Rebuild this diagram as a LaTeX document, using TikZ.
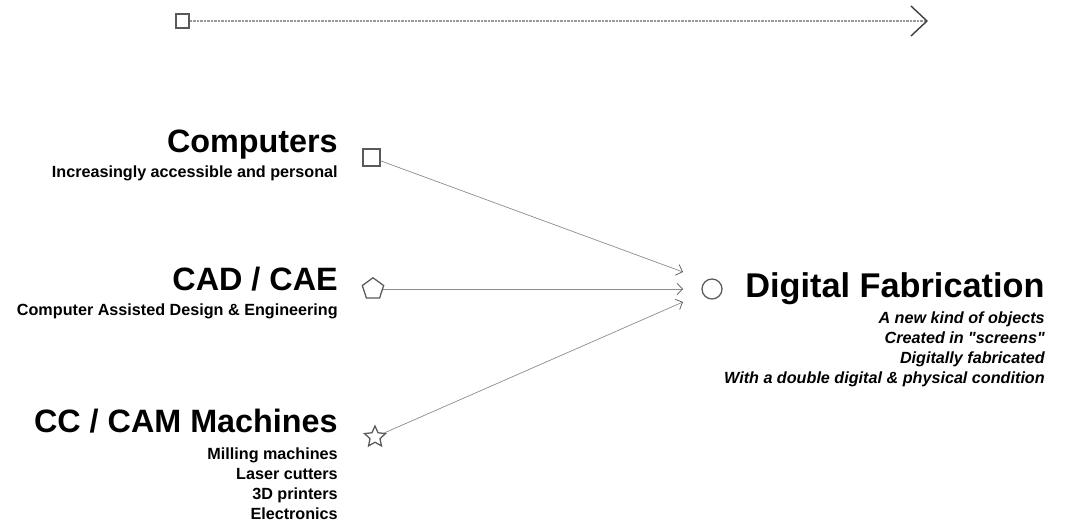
\documentclass[tikz,border=0pt]{standalone}
\usepackage{fontspec}
\setmainfont{Liberation Sans}
\usetikzlibrary{arrows.meta,shapes.geometric}

\tikzset{
  headline/.style={anchor=base east,inner sep=0pt,font=\fontsize{23}{27}\selectfont\bfseries},
  subline/.style={anchor=base east,inner sep=0pt,align=right,font=\fontsize{11.5}{14.4}\selectfont\bfseries},
  glyph/.style={draw=black!65,line width=0.9pt,inner sep=0pt,fill=white},
  link/.style={draw=black!45,line width=0.5pt,-{Straight Barb[length=4pt,width=8pt,color=black!65]}},
  timeline/.style={draw=black!40,line width=0.9pt,dash pattern=on 0.5pt off 0.5pt,
    -{Straight Barb[length=0.4cm,width=0.75cm,color=black!75,line width=1pt]}}
}

\begin{document}
\begin{tikzpicture}[x=0.025cm,y=-0.025cm]
  \useasboundingbox (0,0) rectangle (1067,523);

  % time line
  \node[glyph,rectangle,minimum width=0.33cm,minimum height=0.35cm] (tstart) at (182.5,21) {};
  \coordinate (tend) at (928,21);
  \draw[timeline] (tstart) -- (tend);

  % sources (multi-line nodes sit on their last baseline)
  \node[headline] (comp) at (338,153) {Computers};
  \node[subline] (compsub) at (338,178) {Increasingly accessible and personal};
  \node[glyph,rectangle,minimum size=0.42cm] (sq) at (371.5,157.5) {};

  \node[headline] (cad) at (338,291) {CAD / CAE};
  \node[subline] (cadsub) at (338,316) {Computer Assisted Design \& Engineering};
  \node[glyph,regular polygon,regular polygon sides=5,minimum size=0.56cm] (pent) at (373,289) {};

  \node[headline] (cam) at (338,433) {CC / CAM Machines};
  \node[subline] (camsub) at (338,520) {Milling machines\\Laser cutters\\3D printers\\Electronics};
  \node[glyph,star,star points=5,star point ratio=2.1,minimum size=0.55cm] (st) at (375,437) {};

  % target
  \node[glyph,circle,minimum size=0.5cm] (fab) at (712,289) {};
  \node[anchor=base west,inner sep=0pt,font=\fontsize{24.4}{28}\selectfont\bfseries] (fabtitle) at (745,298) {Digital Fabrication};
  \node[subline,font=\fontsize{11.5}{14.4}\selectfont\bfseries\itshape] (fabsub) at (1045,384)
    {A new kind of objects\\Created in \textquotedbl screens\textquotedbl\\Digitally fabricated\\With a double digital \& physical condition};

  \coordinate (in1) at (683,272);
  \coordinate (in2) at (683,289);
  \coordinate (in3) at (683,302);
  \draw[link] (sq) -- (in1);
  \draw[link] (pent) -- (in2);
  \draw[link] (st) -- (in3);
\end{tikzpicture}
\end{document}
